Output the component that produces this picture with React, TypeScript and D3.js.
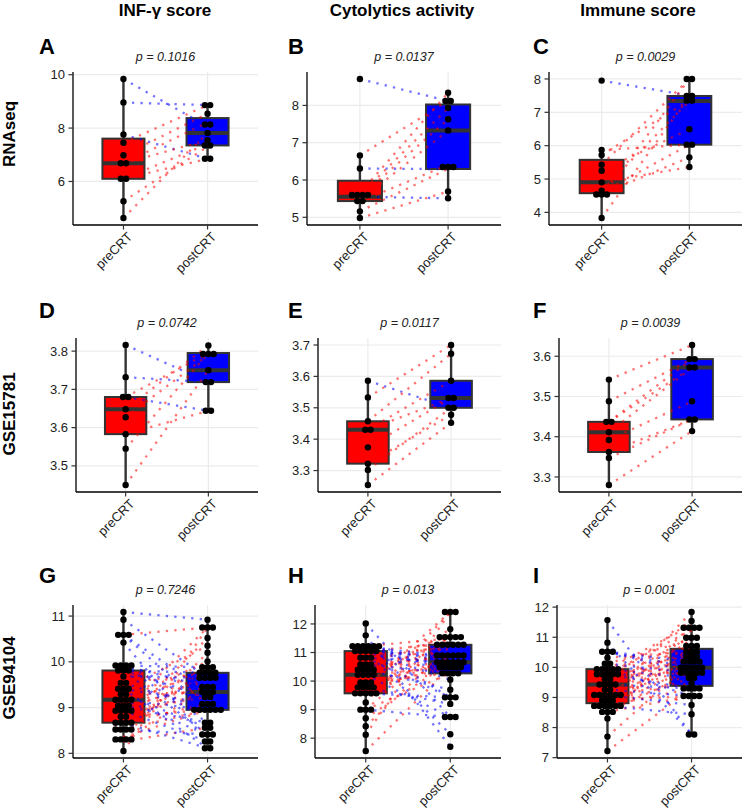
import React from "react";
import * as d3 from "d3";

const groups = ["preCRT", "postCRT"];
const columnTitles = ["INF-γ score", "Cytolytics activity", "Immune score"];
const rowTitles = ["RNAseq", "GSE15781", "GSE94104"];
const panelLetters = ["A", "B", "C", "D", "E", "F", "G", "H", "I"];
const pValues = ["0.1016", "0.0137", "0.0029", "0.0742", "0.0117", "0.0039", "0.7246", "0.013", "0.001"];

// paired samples: pre[i] belongs with post[i]
const aPre = [9.84, 8.96, 7.76, 7.45, 6.98, 6.68, 6.68, 6.1, 6.1, 5.26, 4.63];
const aPost = [8.06, 8.86, 6.85, 8.86, 8.54, 7.55, 8.21, 7.4, 6.85, 7.3, 7.82];
const aTicks = [6, 8, 10];

const bPre = [8.71, 6.31, 5.55, 6.66, 4.98, 5.16, 5.42, 5.45, 5.55, 5.6, 5.65];
const bPost = [8.12, 6.29, 5.51, 8.12, 5.69, 6.3, 6.41, 7.33, 7.63, 7.93, 8.34];
const bTicks = [5, 6, 7, 8];

const cPre = [7.95, 5.87, 5.72, 5.43, 5.25, 4.9, 4.65, 4.6, 4.55, 4.47, 3.83];
const cPost = [7.5, 6.03, 7.36, 8.0, 6.49, 5.36, 7.34, 6.03, 5.65, 8.0, 7.48];
const cTicks = [4, 5, 6, 7, 8];

const dPre = [3.816, 3.732, 3.68, 3.68, 3.648, 3.627, 3.583, 3.545, 3.45];
const dPost = [3.719, 3.719, 3.644, 3.795, 3.815, 3.79, 3.644, 3.795, 3.75];
const dTicks = [3.5, 3.6, 3.7, 3.8];

const ePre = [3.586, 3.533, 3.457, 3.43, 3.43, 3.374, 3.322, 3.302, 3.254];
const ePost = [3.5, 3.7, 3.672, 3.586, 3.531, 3.531, 3.478, 3.5, 3.452];
const eTicks = [3.3, 3.4, 3.5, 3.6, 3.7];

const fPre = [3.542, 3.488, 3.437, 3.437, 3.411, 3.392, 3.362, 3.347, 3.28];
const fPost = [3.628, 3.593, 3.593, 3.572, 3.572, 3.488, 3.443, 3.443, 3.414];
const fTicks = [3.3, 3.4, 3.5, 3.6];

const gPre = [8.05, 8.26, 8.26, 8.35, 8.35, 8.52, 8.52, 8.52, 8.52, 8.67, 8.67, 8.67, 8.67, 8.8, 8.8,
  8.93, 8.93, 8.93, 8.93, 9.04, 9.04, 9.04, 9.17, 9.17, 9.17, 9.17, 9.29, 9.29, 9.41, 9.41, 9.41,
  9.54, 9.54, 9.68, 9.81, 9.81, 9.81, 9.92, 9.92, 9.92, 9.92, 10.42, 10.59, 10.59, 10.59, 10.92, 11.09];
const gPost = [10.75, 9.45, 8.56, 10.2, 8.95, 9.88, 8.41, 9.65, 8.95, 10.52, 9.08, 8.11, 9.76, 9.34, 8.95,
  10.75, 9.23, 8.26, 9.65, 9.88, 8.67, 9.45, 8.41, 9.76, 10.01, 8.95, 9.34, 8.56, 10.35, 9.08, 8.11,
  9.76, 8.95, 9.65, 9.76, 8.41, 9.23, 9.88, 8.67, 9.45, 9.08, 8.26, 9.34, 10.75, 8.95, 9.65, 10.92];
const gTicks = [8, 9, 10, 11];

const hPre = [7.55, 8.12, 8.42, 8.7, 9.0, 9.0, 9.0, 9.25, 9.57, 9.57, 9.57, 9.57, 9.57, 9.78, 9.78,
  9.78, 9.78, 9.95, 9.95, 9.95, 10.22, 10.22, 10.22, 10.22, 10.4, 10.4, 10.4, 10.4, 10.58, 10.58,
  10.58, 10.82, 10.82, 10.82, 11.05, 11.05, 11.05, 11.05, 11.05, 11.22, 11.22, 11.22, 11.22, 11.22,
  11.22, 11.6, 12.02];
const hPost = [10.48, 12.42, 11.22, 10.66, 11.5, 10.27, 8.74, 12.42, 10.84, 11.32, 10.66, 9.43, 11.58,
  10.48, 10.84, 12.42, 9.2, 10.66, 11.82, 10.27, 11.22, 10.48, 8.74, 11.5, 10.66, 9.7, 10.95, 11.32,
  10.84, 10.27, 11.58, 9.43, 10.66, 11.22, 10.48, 8.14, 10.84, 11.32, 10.05, 10.66, 9.43, 11.5, 10.27,
  10.84, 10.48, 7.7, 8.74];
const hTicks = [8, 9, 10, 11, 12];

const iPre = [7.22, 7.7, 8.3, 8.52, 8.52, 8.52, 8.72, 8.72, 8.72, 8.72, 8.72, 8.72, 8.9, 8.9, 8.9,
  9.08, 9.08, 9.08, 9.08, 9.08, 9.08, 9.26, 9.26, 9.43, 9.43, 9.43, 9.43, 9.6, 9.6, 9.77, 9.77,
  9.77, 9.77, 9.77, 9.94, 9.94, 9.94, 9.94, 9.94, 10.12, 10.12, 10.32, 10.52, 10.52, 10.52, 10.82, 11.57];
const iPost = [9.3, 10.19, 11.24, 9.82, 9.05, 10.71, 9.99, 11.39, 9.3, 10.36, 8.44, 9.65, 10.52, 9.05,
  11.84, 9.82, 10.93, 9.99, 8.75, 10.19, 9.47, 10.71, 9.05, 11.04, 9.99, 10.36, 9.3, 10.52, 11.54,
  9.82, 10.19, 9.3, 11.24, 9.99, 10.71, 9.05, 10.36, 11.39, 9.65, 10.93, 9.82, 10.52, 9.99, 10.19,
  9.82, 7.77, 7.77];
const iTicks = [7, 8, 9, 10, 11, 12];

const panels = [
  { pre: aPre, post: aPost, ticks: aTicks },
  { pre: bPre, post: bPost, ticks: bTicks },
  { pre: cPre, post: cPost, ticks: cTicks },
  { pre: dPre, post: dPost, ticks: dTicks },
  { pre: ePre, post: ePost, ticks: eTicks },
  { pre: fPre, post: fPost, ticks: fTicks },
  { pre: gPre, post: gPost, ticks: gTicks },
  { pre: hPre, post: hPost, ticks: hTicks },
  { pre: iPre, post: iPost, ticks: iTicks },
];

// layout
const rowTop = [72, 338, 605];
const rowBottom = [225, 492, 758];
const colRight = [258, 501, 742];
const plotLeft = [[73, 307, 549], [76, 318, 559], [73, 315, 557]];
const letterX = [39, 288, 533];
const letterY = [54, 318, 583];
const headerX = [165, 402, 638];
const rowLabelY = [134, 414, 678];

const fillColors = ["#FF0000", "#0000FF"];
const font = "'Liberation Sans', Arial, Helvetica, sans-serif";

function boxStats(vals: number[]) {
  const s = [...vals].sort(d3.ascending);
  const q1 = d3.quantileSorted(s, 0.25) as number;
  const med = d3.quantileSorted(s, 0.5) as number;
  const q3 = d3.quantileSorted(s, 0.75) as number;
  const iqr = q3 - q1;
  const lo = d3.min(s.filter((v) => v >= q1 - 1.5 * iqr)) as number;
  const hi = d3.max(s.filter((v) => v <= q3 + 1.5 * iqr)) as number;
  return { q1, med, q3, lo, hi };
}

// dot-density binning like geom_dotplot
function dotBins(vals: number[], bw: number) {
  const s = [...vals].sort(d3.ascending);
  const bins: number[][] = [];
  let end = -Infinity;
  for (const v of s) {
    if (v >= end) {
      bins.push([]);
      end = v + bw;
    }
    bins[bins.length - 1].push(v);
  }
  return bins.map((b) => ({ center: (b[0] + b[b.length - 1]) / 2, n: b.length }));
}

function Panel({ idx }: { idx: number }) {
  const row = Math.floor(idx / 3);
  const col = idx % 3;
  const data = panels[idx];
  const left = plotLeft[row][col];
  const right = colRight[col];
  const top = rowTop[row];
  const bottom = rowBottom[row];

  const all = [...data.pre, ...data.post];
  const [mn, mx] = d3.extent(all) as [number, number];
  const pad = (mx - mn) * 0.05;
  const y = d3.scaleLinear().domain([mn - pad, mx + pad]).range([bottom, top]);
  const x = d3.scalePoint<string>().domain(groups).range([left, right]).padding(0.6);
  const boxW = x.step() * 0.5;
  const bw = (mx - mn) / 30;
  const series = [data.pre, data.post];
  const ticks = data.ticks.filter((t) => t >= y.domain()[0] && t <= y.domain()[1]);
  const r = 3.2;
  const spacing = 5.3;

  return (
    <g>
      {/* grid */}
      {ticks.map((t) => (
        <line key={"gy" + t} x1={left} x2={right} y1={y(t)} y2={y(t)} stroke="#EBEBEB" strokeWidth={1.2} />
      ))}
      {groups.map((g) => (
        <line key={"gx" + g} x1={x(g)} x2={x(g)} y1={top} y2={bottom} stroke="#EBEBEB" strokeWidth={1.2} />
      ))}

      {/* boxes */}
      {series.map((vals, gi) => {
        const st = boxStats(vals);
        const cx = x(groups[gi]) as number;
        return (
          <g key={"box" + gi}>
            <line x1={cx} x2={cx} y1={y(st.hi)} y2={y(st.q3)} stroke="#333" strokeWidth={2.4} />
            <line x1={cx} x2={cx} y1={y(st.q1)} y2={y(st.lo)} stroke="#333" strokeWidth={2.4} />
            <rect x={cx - boxW / 2} y={y(st.q3)} width={boxW} height={y(st.q1) - y(st.q3)}
              fill={fillColors[gi]} stroke="#333" strokeWidth={2} />
            <line x1={cx - boxW / 2} x2={cx + boxW / 2} y1={y(st.med)} y2={y(st.med)} stroke="#333" strokeWidth={4} />
          </g>
        );
      })}

      {/* paired lines */}
      {data.pre.map((v, i) => {
        const w = data.post[i];
        return (
          <line key={"pl" + i} x1={x(groups[0])} x2={x(groups[1])} y1={y(v)} y2={y(w)}
            stroke={w >= v ? "#FF0000" : "#0000FF"} strokeOpacity={0.55} strokeWidth={2.3}
            strokeDasharray="2.3 6.2" />
        );
      })}

      {/* dots */}
      {series.map((vals, gi) => {
        const cx = x(groups[gi]) as number;
        return dotBins(vals, bw).map((b, bi) =>
          d3.range(b.n).map((k) => (
            <circle key={`d${gi}-${bi}-${k}`} cx={cx + (k - (b.n - 1) / 2) * spacing} cy={y(b.center)} r={r} fill="#000" />
          ))
        );
      })}

      {/* axes */}
      <line x1={left} x2={left} y1={top} y2={bottom} stroke="#000" strokeWidth={1.3} />
      <line x1={left} x2={right} y1={bottom} y2={bottom} stroke="#000" strokeWidth={1.3} />
      {ticks.map((t) => (
        <g key={"ty" + t}>
          <line x1={left - 4.5} x2={left} y1={y(t)} y2={y(t)} stroke="#333" strokeWidth={1.2} />
          <text x={left - 8} y={y(t)} dy="0.35em" textAnchor="end" fontSize={13} fill="#222">{String(t)}</text>
        </g>
      ))}
      {groups.map((g) => (
        <g key={"tx" + g}>
          <line x1={x(g)} x2={x(g)} y1={bottom} y2={bottom + 4.5} stroke="#333" strokeWidth={1.2} />
          <text transform={`translate(${(x(g) as number) + 3},${bottom + 6}) rotate(-45)`} dy="0.72em"
            textAnchor="end" fontSize={13} fill="#222">{g}</text>
        </g>
      ))}

      {/* titles */}
      <text x={(left + right) / 2} y={top - 11} textAnchor="middle" fontSize={12.5} fontStyle="italic" fill="#222">
        {"p = " + pValues[idx]}
      </text>
      <text x={letterX[col]} y={letterY[row]} fontSize={22} fontWeight="bold" fill="#000">{panelLetters[idx]}</text>
    </g>
  );
}

export default function App() {
  return (
    <svg width={743} height={812} style={{ position: "absolute", left: 0, top: 0 }} fontFamily={font}>
      <rect width={743} height={812} fill="#fff" />
      {columnTitles.map((t, i) => (
        <text key={t} x={headerX[i]} y={15.5} textAnchor="middle" fontSize={17} fontWeight="bold">{t}</text>
      ))}
      {rowTitles.map((t, i) => (
        <text key={t} transform={`translate(15,${rowLabelY[i]}) rotate(-90)`} textAnchor="middle" fontSize={17} fontWeight="bold">{t}</text>
      ))}
      {panels.map((_, i) => (
        <Panel key={i} idx={i} />
      ))}
    </svg>
  );
}
